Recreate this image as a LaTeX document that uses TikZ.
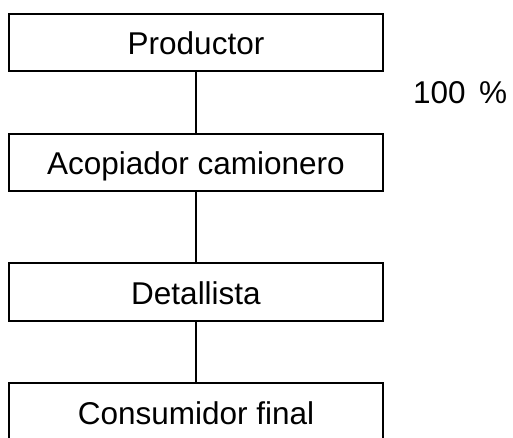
\documentclass[tikz,border=0pt]{standalone}
\usepackage{fontspec}
\setmainfont{Liberation Sans}
\usetikzlibrary{positioning}

\begin{document}
\begin{tikzpicture}[x=1pt, y=1pt,
    node distance=62.5pt,
    stage/.style={draw, line width=2.2pt, outer sep=0pt, inner sep=0pt,
        minimum width=374pt, minimum height=57.5pt,
        text height=24pt, text depth=0pt,
        font=\fontsize{31.5}{31.5}\selectfont},
    link/.style={line width=2.2pt}]
    \useasboundingbox (0,0) rectangle (513,-437);
    \clip (0,0) rectangle (513,-437);
    \node[stage] (prod) at (196,-42.5) {Productor};
    \node[stage, below=of prod] (acop) {Acopiador camionero};
    \node[stage, below=72pt of acop] (det) {Detallista};
    \node[stage, below=of det] (cons) {Consumidor final};
    \node[anchor=base west, inner sep=0pt,
        font=\fontsize{31.5}{31.5}\selectfont] (pct) at (413,-103) {100\hspace{13.5pt}\%};
    \draw[link] (prod) -- (acop);
    \draw[link] (acop) -- (det);
    \draw[link] (det) -- (cons);
\end{tikzpicture}
\end{document}
